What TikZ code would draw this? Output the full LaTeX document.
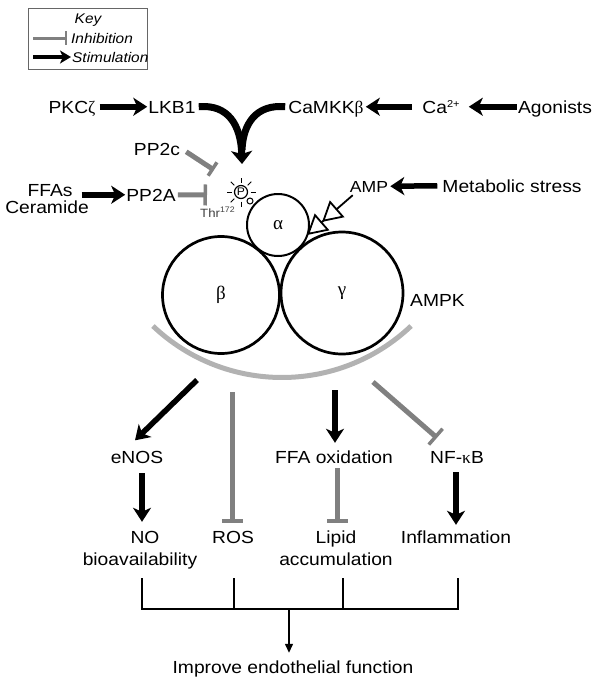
\documentclass[tikz,border=0pt]{standalone}
\usepackage{fontspec}
\setmainfont{Liberation Sans}[FakeStretch=1.1]
\newfontfamily\grk{Liberation Serif}
\usetikzlibrary{arrows.meta,calc}
\definecolor{inhgray}{RGB}{128,128,128}
\definecolor{arcgray}{RGB}{178,178,178}
\begin{document}
\begin{tikzpicture}[x=1pt,y=-1pt,
  txt/.style={inner sep=0pt, anchor=base, text height=12.5pt, text depth=0pt, font=\fontsize{17.5}{21}\selectfont},
  ktxt/.style={inner sep=0pt, anchor=base west, text height=10pt, text depth=0pt, font=\itshape\fontsize{14}{14}\selectfont},
  stim/.style={line width=5.5pt, -{Stealth[length=14pt,width=18pt,inset=4pt]}},
  inh/.style={draw=inhgray, line width=5pt, -{Bar[width=21pt,line width=3.5pt]}},
  br/.style={line width=1.5pt},
  ring/.style={circle, draw, inner sep=0pt, font=\grk\fontsize{19}{19}\selectfont},
  ]
\useasboundingbox (0,0) rectangle (601,686);

% key
\node[draw=black!60, line width=1.2pt, anchor=north west, minimum width=119pt, minimum height=61pt, inner sep=0pt] (keybox) at (28,8) {};
\node[ktxt, anchor=base] (keyt) at (88,23) {Key};
\node[ktxt] (kinh) at (71,43) {Inhibition};
\node[ktxt] (kstim) at (72,62) {Stimulation};
\draw[draw=inhgray, line width=3pt, -{Bar[width=14pt,line width=2pt]}] ([xshift=-38pt]kinh.west) -- ([xshift=-4pt]kinh.west);
\draw[line width=4pt, -{Stealth[length=11pt,width=13pt,inset=3pt]}] ([xshift=-39pt]kstim.west) -- ([xshift=-1pt]kstim.west);

% top row
\node[txt] (pkc) at (72,113) {PKC{\grk ζ}};
\node[txt] (lkb) at (172,113) {LKB1};
\node[txt] (camkk) at (326,113) {CaMKK{\grk β}};
\node[txt] (ca) at (441,113) {Ca\raisebox{5.5pt}{\fontsize{10}{10}\selectfont 2+}};
\node[txt] (ago) at (555,113) {Agonists};
\draw[stim] ([xshift=4pt]pkc.east) -- ([xshift=-1pt]lkb.west);
\draw[stim] ([xshift=-10pt]ca.west) -- ([xshift=2pt]camkk.east);
\draw[stim] ([xshift=-1pt]ago.west) -- ([xshift=9pt]ca.east);

% AMPK complex
\node[ring, line width=2.7pt, minimum size=117pt] (beta) at (221,295) {β};
\node[ring, line width=2.7pt, minimum size=122pt] (gamma) at (342,293) {γ};
\node[ring, line width=2pt, minimum size=62pt, fill=white] (alpha) at (278,225) {α};
\node[txt, anchor=base west] (ampk) at (410,306) {AMPK};

% phosphorylation site
\node[circle, draw, line width=1.2pt, minimum size=13pt, inner sep=0pt, fill=white, font=\fontsize{11}{11}\selectfont] (p) at (241,192) {P};
\foreach \a in {0,90,135,180,225,270,315}
  \draw[line width=0.8pt] (p.center) ++(\a:9.5) -- ++(\a:5);
\node[circle, draw, line width=1pt, minimum size=6pt, inner sep=0pt, fill=white] (plink) at (250,201) {};
\node[inner sep=0pt, anchor=base west, font=\fontsize{12}{12}\selectfont, text=black!75] (thr) at (200,217) {Thr\raisebox{4.5pt}{\fontsize{8}{8}\selectfont 172}};

% converging curves
\coordinate (conv) at (242,150);
\draw[line width=7pt] ([xshift=-3pt]camkk.west) .. controls (256,104) and (243,124) .. (conv);
\draw[line width=7pt, -{Stealth[length=13pt,width=21pt,inset=3pt]}] ([xshift=3pt]lkb.east) .. controls (228,104) and (241,125) .. (242,164);

% PP2c / PP2A
\node[txt] (pp2c) at (157,155) {PP2c};
\coordinate (pp2cend) at (214,170);
\draw[inh, -{Bar[width=16pt,line width=3.5pt]}] ([shift={(6,3)}]pp2c.east) -- (pp2cend);
\node[txt] (ffas) at (50,196) {FFAs};
\node[txt] (ceram) at (47,213.5) {Ceramide};
\node[txt] (pp2a) at (151,201) {PP2A};
\draw[stim] ($(ffas.east |- pp2a.west)+(9,0)$) -- ([xshift=-1pt]pp2a.west);
\coordinate (pp2aend) at (207,195);
\draw[inh] ([xshift=2pt]pp2a.east) -- (pp2aend);

% AMP
\node[txt, font=\fontsize{16}{16}\selectfont, text height=11.5pt] (amp) at (369,192) {AMP};
\node[txt] (meta) at (512,192) {Metabolic stress};
\draw[stim] ([xshift=-5pt]meta.west) -- ([xshift=2pt]amp.east);
\coordinate (ampt) at (307,235);
\draw[line width=1.8pt, -{Triangle[length=20pt,width=22pt,fill=white,sep=0pt]Triangle[length=20pt,width=22pt,fill=white]}] ([shift={(3,3)}]amp.south west) -- (ampt);

% gray arc
\draw[arcgray, line width=5pt] (282,190) ++(133.5:187.5) arc[start angle=133.5, end angle=46.5, radius=187.5];

% outputs
\node[txt] (enos) at (137,463) {eNOS};
\node[txt] (ffa) at (334,463) {FFA oxidation};
\node[txt] (nfkb) at (457,463) {NF-{\grk κ}B};
\node[txt] (no) at (145,543) {NO};
\node[txt] (bio) at (140,565) {bioavailability};
\node[txt] (ros) at (233,543) {ROS};
\node[txt] (lipid) at (336,543) {Lipid};
\node[txt] (accum) at (336,565) {accumulation};
\node[txt] (infl) at (456,543) {Inflammation};
\node[txt] (imp) at (293,673) {Improve endothelial function};

\coordinate (s1) at (197,380);
\coordinate (s2) at (232,392);
\coordinate (s3) at (335,390);
\coordinate (s4) at (373,382);
\draw[stim] (s1) -- ([shift={(-2,-10)}]enos.north);
\draw[inh] (s2) -- ([shift={(-1,-7.5)}]ros.north);
\draw[stim] (s3) -- ([shift={(1,-7.5)}]ffa.north);
\draw[inh] (s4) -- ([shift={(-20,-12.5)}]nfkb.north);

\draw[stim] ([shift={(5,10)}]enos.south) -- ([shift={(-3,-8.5)}]no.north);
\draw[inh] ([shift={(3,5)}]ffa.south) -- ([shift={(1,-7.5)}]lipid.north);
\draw[stim] ([shift={(-1,9)}]nfkb.south) -- ([shift={(0,-5.5)}]infl.north);

% bracket
\coordinate (v1) at ([shift={(2,13)}]bio.south);
\coordinate (v2) at ([shift={(1,35)}]ros.south);
\coordinate (v3) at ([shift={(7,13)}]accum.south);
\coordinate (v4) at ([shift={(2,35)}]infl.south);
\coordinate (bj) at (289,609);
\draw[br] (v1) -- (v1 |- bj) -- (v4 |- bj) -- (v4);
\draw[br] (v2) -- (v2 |- bj);
\draw[br] (v3) -- (v3 |- bj);
\draw[line width=1.3pt, shorten >=7.5pt, -{Triangle[length=9pt,width=8pt]}] (bj) -- (bj |- imp.north);
\end{tikzpicture}
\end{document}
